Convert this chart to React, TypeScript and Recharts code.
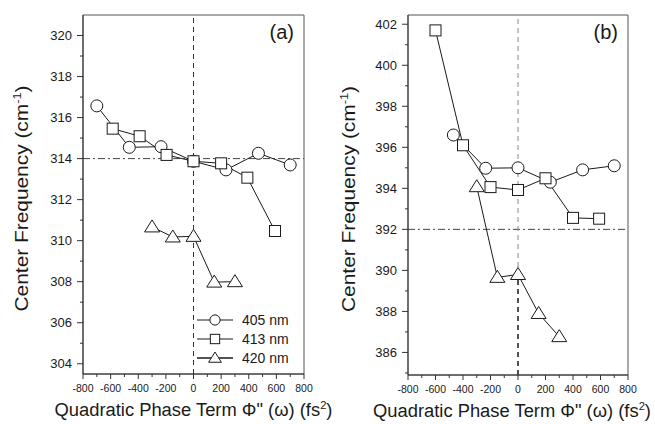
import React from 'react';
import { LineChart, Line, XAxis, YAxis, ReferenceLine, ReferenceArea, Legend, Label } from 'recharts';

const FONT = '"Liberation Sans", Arial, Helvetica, sans-serif';
const INK = '#1a1a1a';

// panel (a)
const aPhase405 = [-700, -465, -235, 0, 235, 470, 700];
const aFreq405 = [316.57, 314.55, 314.58, 313.87, 313.45, 314.26, 313.69];
const aPhase413 = [-585, -390, -195, 0, 200, 390, 590];
const aFreq413 = [315.46, 315.09, 314.18, 313.87, 313.77, 313.07, 310.47];
const aPhase420 = [-300, -150, 0, 150, 300];
const aFreq420 = [310.67, 310.18, 310.21, 307.98, 308.0];

// panel (b)
const bPhase405 = [-470, -235, 0, 235, 470, 700];
const bFreq405 = [396.6, 394.98, 395.0, 394.3, 394.9, 395.1];
const bPhase413 = [-600, -400, -200, 0, 200, 400, 590];
const bFreq413 = [401.7, 396.1, 394.06, 393.92, 394.49, 392.56, 392.52];
const bPhase420 = [-300, -150, 0, 150, 300];
const bFreq420 = [394.08, 389.66, 389.8, 387.9, 386.77];

const xTicks = [-800, -700, -600, -500, -400, -300, -200, -100, 0, 100, 200, 300, 400, 500, 600, 700, 800];
const aYTicks = [304, 305, 306, 307, 308, 309, 310, 311, 312, 313, 314, 315, 316, 317, 318, 319, 320];
const bYTicks = [385, 386, 387, 388, 389, 390, 391, 392, 393, 394, 395, 396, 397, 398, 399, 400, 401, 402];
const legendLabels = ['405 nm', '413 nm', '420 nm'];

const toPoints = (xs: number[], ys: number[]) => xs.map((x, i) => ({ x, y: ys[i] }));

const TICK_SIZE = 6;
const TICK_MARGIN = 5;

type Shape = 'circle' | 'square' | 'triangle';
const shapes: Shape[] = ['circle', 'square', 'triangle'];

const Marker = ({ cx, cy, shape, scale = 1 }: { cx: number; cy: number; shape: Shape; scale?: number }) => {
  const common = { fill: '#fff', stroke: INK, strokeWidth: 1 };
  if (shape === 'circle') return <circle cx={cx} cy={cy} r={6 * scale} {...common} />;
  if (shape === 'square') {
    const h = 5.5 * scale;
    return <rect x={cx - h} y={cy - h} width={2 * h} height={2 * h} {...common} />;
  }
  const s = scale;
  return <polygon points={`${cx},${cy - 7 * s} ${cx - 7.5 * s},${cy + 5 * s} ${cx + 7.5 * s},${cy + 5 * s}`} {...common} />;
};

const dotFor = (shape: Shape) => (props: any) => (
  <g key={`${shape}-${props.index}`}>
    <Marker cx={props.cx} cy={props.cy} shape={shape} />
  </g>
);

const YTick = (props: any) => {
  const { x, y, payload } = props;
  const major = payload.value % 2 === 0;
  const x2 = x + TICK_MARGIN + TICK_SIZE;
  return (
    <g>
      <line x1={x2 - (major ? TICK_SIZE : 3)} x2={x2} y1={y} y2={y} stroke="#333" />
      {major && (
        <text x={x} y={y} dy="0.36em" textAnchor="end" fontSize={13} fill={INK} fontFamily={FONT}>
          {payload.value}
        </text>
      )}
    </g>
  );
};

const XTick = (props: any) => {
  const { x, y, payload } = props;
  const major = payload.value % 200 === 0;
  const y0 = y - TICK_MARGIN - TICK_SIZE;
  return (
    <g>
      <line x1={x} x2={x} y1={y0} y2={y0 + (major ? 5 : 3)} stroke="#333" />
      {major && (
        <text x={x} y={y} dy="0.71em" textAnchor="middle" fontSize={10.5} fill={INK} fontFamily={FONT}>
          {payload.value}
        </text>
      )}
    </g>
  );
};

const XTitle = (props: any) => {
  const { x, y, width } = props.viewBox;
  const shift = props.shift || 0;
  return (
    <text
      transform={`translate(${x + width / 2 + shift} ${y + 42}) scale(1.02 1)`}
      textAnchor="middle"
      fontSize={18}
      fill={INK}
      fontFamily={FONT}
    >
      Quadratic Phase Term Φ" (ω) (fs
      <tspan dy={-7} fontSize={11}>2</tspan>
      <tspan dy={7}>)</tspan>
    </text>
  );
};

const YTitle = (props: any) => {
  const { x, y, height } = props.viewBox;
  const cx = x + 28;
  const cy = y + height / 2 + 4;
  return (
    <text
      transform={`translate(${cx} ${cy}) rotate(-90) scale(1.16 1)`}
      textAnchor="middle"
      fontSize={18}
      fill={INK}
      fontFamily={FONT}
    >
      Center Frequency (cm
      <tspan dy={-7} fontSize={11}>-1</tspan>
      <tspan dy={7}>)</tspan>
    </text>
  );
};

const renderLegend = () => (
  <div style={{ fontFamily: FONT, fontSize: 14, color: INK }}>
    {legendLabels.map((label, i) => (
      <div key={label} style={{ display: 'flex', alignItems: 'center', height: 19 }}>
        <svg width={40} height={16} style={{ display: 'block' }}>
          <line x1={1} x2={37} y1={8} y2={8} stroke={INK} strokeWidth={i === 2 ? 1.6 : 1} />
          <Marker cx={19} cy={8} shape={shapes[i]} scale={0.85} />
        </svg>
        <span style={{ marginLeft: 6 }}>{label}</span>
      </div>
    ))}
  </div>
);

interface PanelProps {
  width: number;
  right: number;
  yAxisWidth: number;
  xAxisHeight: number;
  yDomain: [number, number];
  yTicks: number[];
  hLine: number;
  tag: string;
  series: { x: number; y: number }[][];
  showLegend?: boolean;
  lowerDash?: number;
  titleShift?: number;
}

const Panel = ({ width, right, yAxisWidth, xAxisHeight, yDomain, yTicks, hLine, tag, series, showLegend, lowerDash, titleShift }: PanelProps) => (
  <LineChart width={width} height={424} margin={{ top: 15, right, bottom: 0, left: 0 }}>
    <XAxis
      type="number"
      dataKey="x"
      domain={[-800, 800]}
      ticks={xTicks}
      interval={0}
      allowDataOverflow
      height={xAxisHeight}
      tickSize={TICK_SIZE}
      tickMargin={TICK_MARGIN}
      tickLine={false}
      tick={<XTick />}
      axisLine={{ stroke: '#333' }}
      label={<Label content={<XTitle shift={titleShift} />} />}
    />
    <YAxis
      type="number"
      dataKey="y"
      domain={yDomain}
      ticks={yTicks}
      interval={0}
      allowDataOverflow
      width={yAxisWidth}
      tickSize={TICK_SIZE}
      tickMargin={TICK_MARGIN}
      tickLine={false}
      tick={<YTick />}
      axisLine={{ stroke: '#333' }}
      label={<Label content={<YTitle />} />}
    />
    <ReferenceArea
      x1={-800}
      x2={800}
      y1={yDomain[0]}
      y2={yDomain[1]}
      fill="none"
      fillOpacity={0}
      stroke="#555"
      strokeWidth={1}
      label={{ value: tag, position: 'insideTopRight', offset: 10, fontSize: 20, fill: INK, fontFamily: FONT }}
    />
    <ReferenceLine y={hLine} stroke="#444" strokeWidth={1} strokeDasharray="7 3 2 3" />
    <ReferenceLine x={0} stroke={lowerDash === undefined ? '#333' : '#888'} strokeWidth={1} strokeDasharray="5 4" />
    {lowerDash !== undefined && (
      <ReferenceLine
        segment={[{ x: 0, y: yDomain[0] }, { x: 0, y: lowerDash }]}
        stroke="#222"
        strokeWidth={1.4}
        strokeDasharray="5 4"
      />
    )}
    {series.map((data, i) => (
      <Line
        key={legendLabels[i]}
        data={data}
        dataKey="y"
        name={legendLabels[i]}
        type="linear"
        stroke={INK}
        strokeWidth={1}
        dot={dotFor(shapes[i])}
        activeDot={false}
        isAnimationActive={false}
      />
    ))}
    {showLegend && (
      <Legend
        layout="vertical"
        align="center"
        verticalAlign="middle"
        content={renderLegend}
        wrapperStyle={{ left: 196, top: 310, width: 120 }}
      />
    )}
  </LineChart>
);

export default function App() {
  return (
    <div style={{ position: 'absolute', left: 0, top: 0, width: 655, height: 424, background: '#fff', display: 'flex' }}>
      <style>{'.recharts-surface { overflow: visible; }'}</style>
      <Panel
        width={327}
        right={23}
        yAxisWidth={83}
        xAxisHeight={50}
        yDomain={[303.5, 321]}
        yTicks={aYTicks}
        hLine={314}
        tag="(a)"
        series={[toPoints(aPhase405, aFreq405), toPoints(aPhase413, aFreq413), toPoints(aPhase420, aFreq420)]}
        showLegend
      />
      <Panel
        width={328}
        right={27}
        yAxisWidth={81}
        xAxisHeight={49}
        yDomain={[384.9, 402.45]}
        yTicks={bYTicks}
        hLine={392}
        tag="(b)"
        series={[toPoints(bPhase405, bFreq405), toPoints(bPhase413, bFreq413), toPoints(bPhase420, bFreq420)]}
        lowerDash={389.8}
        titleShift={-6}
      />
    </div>
  );
}
